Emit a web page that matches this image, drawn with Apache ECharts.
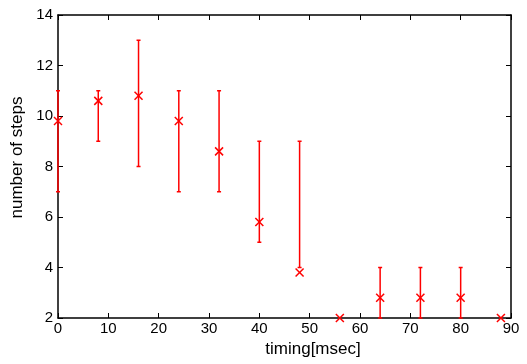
<!DOCTYPE html>
<html>
<head>
<meta charset="utf-8">
<script src="https://cdn.jsdelivr.net/npm/echarts@6/dist/echarts.min.js"></script>
<style>html,body{margin:0;padding:0;background:#fff}#c{width:527px;height:364px}</style>
</head>
<body>
<div id="c"></div>
<script>
const timing = [0, 8, 16, 24, 32, 40, 48, 56, 64, 72, 80, 88];
const meanSteps = [9.8, 10.6, 10.8, 9.8, 8.6, 5.8, 3.8, 2, 2.8, 2.8, 2.8, 2];
const lowSteps = [7, 9, 8, 7, 7, 5, 4, 2, 2, 2, 2, 2];
const highSteps = [11, 11, 13, 11, 11, 9, 9, 2, 4, 4, 4, 2];
const xTicks = [0, 10, 20, 30, 40, 50, 60, 70, 80, 90];
const yTicks = [2, 4, 6, 8, 10, 12, 14];

const data = timing.map((t, i) => [t, meanSteps[i], lowSteps[i], highSteps[i]]);
const RED = '#ff0000';
const font = 'Liberation Sans, Arial, sans-serif';

function axisCommon(showLabel, margin) {
  return {
    axisLine: { show: true, onZero: false, lineStyle: { color: '#000', width: 1.5 } },
    axisTick: { show: true, inside: true, length: 5, lineStyle: { color: '#000', width: 1 } },
    axisLabel: { show: showLabel, color: '#000', fontSize: 15, fontFamily: font, margin: margin || 4 },
    splitLine: { show: false }
  };
}

const chart = echarts.init(document.getElementById('c'), null, { renderer: 'canvas' });
chart.setOption({
  animation: false,
  backgroundColor: '#fff',
  grid: { left: 58, right: 16, top: 15, bottom: 46 },
  xAxis: [
    Object.assign({
      type: 'value', min: xTicks[0], max: xTicks[xTicks.length - 1], interval: 10, position: 'bottom',
      name: 'timing[msec]', nameLocation: 'middle', nameGap: 21,
      nameTextStyle: { color: '#000', fontSize: 17, fontFamily: font, padding: [0, 0, 0, 57] }
    }, axisCommon(true, 3)),
    Object.assign({
      type: 'value', min: xTicks[0], max: xTicks[xTicks.length - 1], interval: 10, position: 'top'
    }, axisCommon(false))
  ],
  yAxis: [
    Object.assign({
      type: 'value', min: yTicks[0], max: yTicks[yTicks.length - 1], interval: 2, position: 'left',
      name: 'number of steps', nameLocation: 'middle', nameGap: 31,
      nameTextStyle: { color: '#000', fontSize: 17, fontFamily: font, padding: [0, 0, 0, 18] }
    }, axisCommon(true, 5)),
    Object.assign({
      type: 'value', min: yTicks[0], max: yTicks[yTicks.length - 1], interval: 2, position: 'right'
    }, axisCommon(false))
  ],
  series: [{
    type: 'custom',
    xAxisIndex: 0,
    yAxisIndex: 0,
    clip: false,
    data: data,
    renderItem: function (params, api) {
      const x = api.value(0), m = api.value(1), lo = api.value(2), hi = api.value(3);
      const pm = api.coord([x, m]);
      const pl = api.coord([x, lo]);
      const ph = api.coord([x, hi]);
      const st = { stroke: RED, lineWidth: 1.5, fill: null };
      const children = [];
      if (hi > lo) {
        children.push({ type: 'line', shape: { x1: pl[0], y1: pl[1], x2: ph[0], y2: ph[1] }, style: st });
        children.push({ type: 'line', shape: { x1: pl[0] - 2, y1: pl[1], x2: pl[0] + 2, y2: pl[1] }, style: st });
        children.push({ type: 'line', shape: { x1: ph[0] - 2, y1: ph[1], x2: ph[0] + 2, y2: ph[1] }, style: st });
      }
      const s = 4;
      children.push({ type: 'line', shape: { x1: pm[0] - s, y1: pm[1] - s, x2: pm[0] + s, y2: pm[1] + s }, style: st });
      children.push({ type: 'line', shape: { x1: pm[0] - s, y1: pm[1] + s, x2: pm[0] + s, y2: pm[1] - s }, style: st });
      return { type: 'group', children: children };
    }
  }]
});
</script>
</body>
</html>
